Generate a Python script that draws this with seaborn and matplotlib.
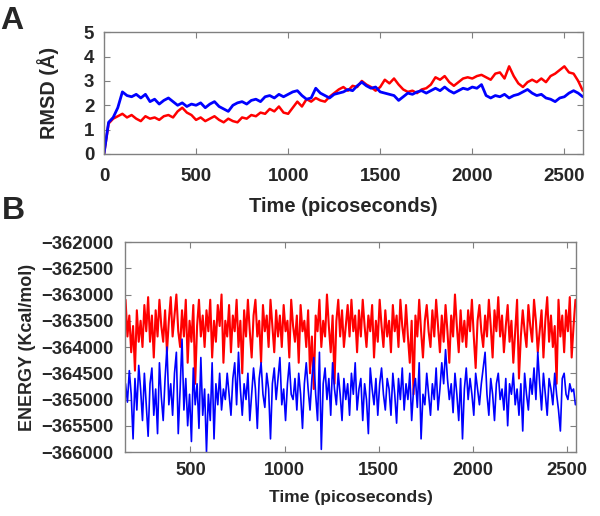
import numpy as np
import pandas as pd
import seaborn as sns
import matplotlib.pyplot as plt

# ---- panel A: RMSD, sampled every 25 ps ----
rmsd_time = np.arange(0, 2601, 25)
rmsd_red = [0.0, 1.25, 1.45, 1.55, 1.65, 1.5, 1.6, 1.45, 1.35, 1.55,
            1.45, 1.5, 1.4, 1.55, 1.6, 1.5, 1.75, 1.9, 1.7, 1.6,
            1.4, 1.5, 1.35, 1.45, 1.55, 1.4, 1.3, 1.45, 1.35, 1.3,
            1.5, 1.45, 1.6, 1.55, 1.7, 1.65, 1.85, 1.75, 1.95, 1.7,
            1.65, 1.9, 2.15, 1.95, 2.25, 2.15, 2.3, 2.2, 2.15, 2.35,
            2.5, 2.65, 2.75, 2.6, 2.8, 2.75, 3.0, 2.85, 2.75, 2.6,
            2.75, 3.05, 2.9, 3.1, 2.85, 2.65, 2.55, 2.6, 2.5, 2.65,
            2.7, 2.85, 3.15, 3.05, 3.2, 2.95, 2.8, 2.95, 3.1, 3.15,
            3.1, 3.2, 3.25, 3.15, 3.05, 3.3, 3.35, 3.1, 3.6, 3.2,
            2.9, 2.75, 2.95, 3.05, 2.95, 3.1, 2.95, 3.2, 3.3, 3.45,
            3.6, 3.35, 3.3, 3.0, 2.6]
rmsd_blue = [0.0, 1.3, 1.5, 1.9, 2.55, 2.4, 2.35, 2.45, 2.3, 2.45,
             2.15, 2.25, 2.05, 2.2, 2.3, 2.15, 2.0, 2.1, 1.95, 2.05,
             2.0, 2.1, 1.9, 2.05, 2.15, 1.95, 1.85, 1.75, 2.0, 2.1,
             2.15, 2.05, 2.2, 2.25, 2.15, 2.35, 2.4, 2.3, 2.45, 2.35,
             2.45, 2.55, 2.6, 2.4, 2.25, 2.3, 2.7, 2.5, 2.4, 2.3,
             2.45, 2.5, 2.55, 2.65, 2.6, 2.8, 2.95, 2.8, 2.7, 2.75,
             2.55, 2.5, 2.45, 2.4, 2.2, 2.35, 2.5, 2.45, 2.55, 2.6,
             2.5, 2.6, 2.7, 2.6, 2.75, 2.6, 2.5, 2.6, 2.7, 2.65,
             2.75, 2.7, 2.85, 2.4, 2.3, 2.4, 2.35, 2.45, 2.3, 2.4,
             2.45, 2.55, 2.65, 2.5, 2.4, 2.45, 2.3, 2.25, 2.15, 2.3,
             2.35, 2.5, 2.6, 2.5, 2.35]

# ---- panel B: energy, sampled every 10 ps from 155 ps ----
energy_time = np.arange(155, 2546, 10)
energy_red = [
    -363100, -363800, -363400, -364100, -363600, -364450, -363300, -363900, -363500, -364000,
    -363200, -363700, -363050, -363900, -363400, -364200, -363300, -363800, -363100, -363600,
    -363900, -363300, -364100, -363500, -363050, -363800, -363400, -363000, -363700, -364000,
    -363300, -363800, -363100, -364300, -363500, -363900, -363200, -364700, -363600, -363100,
    -363800, -363400, -364000, -363300, -363700, -363100, -364200, -363500, -363900, -363200,
    -363600, -363000, -364300, -363500, -363800, -363200, -364100, -363400, -363700, -363100,
    -364000, -363500, -364500, -363300, -363800, -363100, -363700, -364200, -363400, -363100,
    -363800, -363500, -364300, -363200, -363700, -363400, -364000, -363100, -363600, -364100,
    -363300, -363800, -363400, -364000, -363200, -363700, -363500, -364200, -363100, -363600,
    -363900, -363400, -364300, -363200, -363700, -363500, -364000, -363300, -364500, -363800,
    -364800, -363400, -363700, -363100, -364000, -363500, -363800, -363000, -363600, -364100,
    -363400, -364700, -363500, -363100, -363800, -363300, -364000, -363600, -363200, -363800,
    -363100, -363700, -363400, -364100, -363300, -363800, -363100, -363600, -364000, -363400,
    -363700, -363200, -364200, -363500, -363900, -363100, -363600, -364000, -363300, -363800,
    -363500, -364100, -363200, -363700, -363400, -364000, -363100, -363600, -363900, -363200,
    -363800, -364300, -363500, -364900, -363400, -363800, -363100, -363700, -364200, -363500,
    -363200, -363700, -364000, -363300, -363800, -363100, -363600, -364100, -363400, -363900,
    -363200, -363700, -364300, -363400, -363800, -363000, -363600, -364100, -363300, -363900,
    -363500, -364000, -363300, -363700, -363100, -363800, -364400, -363500, -363200, -363700,
    -364000, -363400, -363800, -363100, -363600, -364200, -363300, -363700, -363050, -363800,
    -363400, -364100, -363600, -363200, -363900, -363500, -364300, -363700, -363100, -364600,
    -363800, -363300, -363700, -364000, -363200, -363600, -363900, -363100, -363500, -364100,
    -363700, -363300, -364200, -363500, -363050, -363900, -363400, -364000, -363600, -364700,
    -363100, -363800, -363400, -364100, -363300, -363700, -363050, -364200, -363600, -363100]
energy_blue = [
    -364700, -365050, -364450, -364900, -365750, -364600, -365200, -364350, -364800, -365400,
    -364500, -365100, -365700, -364700, -364400, -365300, -364800, -365650, -364300, -364950,
    -365400, -364600, -364000, -365100, -364700, -365300, -364500, -364100, -365650, -364800,
    -363850, -365200, -364600, -365500, -364900, -365800, -364400, -365100, -364700, -365550,
    -364200, -365300, -364800, -366000, -364900, -365400, -364300, -365750, -364700, -365100,
    -364500, -365200, -364800, -365000, -364500, -364900, -365300, -364600, -364300, -365100,
    -364100, -364800, -365300, -364700, -365000, -364500, -365400, -364900, -364400, -364800,
    -365550, -364600, -364300, -364900, -365150, -364500, -364800, -365750, -364700, -364400,
    -365000, -364600, -364200, -365100, -364800, -365400, -364700, -364300, -364900, -365000,
    -364600, -365200, -364500, -364900, -365550, -364700, -364300, -364800, -365200, -364600,
    -364200, -364900, -365400, -364100, -365950, -364700, -364400, -365000, -364600, -365300,
    -364300, -364800, -365100, -364500, -364900, -365400, -364600, -365000, -364700, -365300,
    -364500, -364900, -364300, -365200, -364800, -364600, -365400, -364700, -365000, -365650,
    -364400, -364800, -365100, -364600, -365300, -364700, -364400, -364900, -365200, -364600,
    -364800, -365300, -364500, -364900, -365450, -364600, -365000, -364400, -365200, -364700,
    -365000, -364500, -365400, -364800, -364600, -365150, -364300, -365750, -364900, -365100,
    -364500, -364900, -365300, -364700, -365000, -364400, -365200, -364800, -364300, -364700,
    -364050, -364600, -365000, -364700, -365250, -364500, -364900, -365400, -364600, -365750,
    -364800, -364400, -365000, -364600, -364900, -365300, -364500, -364800, -365100, -364700,
    -364400, -364100, -364900, -365300, -364600, -364900, -365400, -364700, -364500, -365000,
    -364800, -365200, -364600, -365500, -364700, -364900, -364500, -365100, -364800, -365300,
    -364700, -365600, -364500, -364900, -365200, -364600, -364900, -364400, -365000, -364100,
    -364700, -365200, -364500, -364900, -365300, -364600, -364800, -365100, -364500, -364900,
    -365200, -365600, -364600, -364500, -364900, -365000, -364700, -364850, -364800, -365100]

sns.set_style("ticks")
plt.rcParams['font.family'] = ['Liberation Sans', 'DejaVu Sans']
plt.rcParams['font.weight'] = 'bold'
plt.rcParams['axes.labelweight'] = 'bold'

RED = '#ff0000'
BLUE = '#0000ff'

fig = plt.figure(figsize=(6, 5.16), dpi=100)
ax0 = fig.add_axes([0.1733, 0.7016, 0.798, 0.2359])
ax1 = fig.add_axes([0.2083, 0.124, 0.7517, 0.407])

df_a = pd.DataFrame({'t': rmsd_time, 'red': rmsd_red, 'blue': rmsd_blue})
sns.lineplot(data=df_a, x='t', y='red', ax=ax0, color=RED, lw=1.8)
sns.lineplot(data=df_a, x='t', y='blue', ax=ax0, color=BLUE, lw=2.0)
ax0.set_xlim(0, 2600)
ax0.set_ylim(0, 5)
ax0.set_xticks([0, 500, 1000, 1500, 2000, 2500])
ax0.set_yticks([0, 1, 2, 3, 4, 5])
ax0.set_xlabel('Time (picoseconds)', fontsize=14.5, labelpad=9)
ax0.set_ylabel('RMSD (Å)', fontsize=14.3, labelpad=18)
ax0.tick_params(axis='x', labelsize=13.5, pad=10)
ax0.tick_params(axis='y', labelsize=13.5, pad=7)

df_b = pd.DataFrame({'t': energy_time, 'red': energy_red, 'blue': energy_blue})
sns.lineplot(data=df_b, x='t', y='red', ax=ax1, color=RED, lw=1.5)
sns.lineplot(data=df_b, x='t', y='blue', ax=ax1, color=BLUE, lw=1.2)
ax1.set_xlim(152, 2548)
ax1.set_ylim(-366000, -362000)
ax1.set_xticks([500, 1000, 1500, 2000, 2500])
ax1.set_yticks(np.arange(-366000, -361999, 500))
ax1.set_xlabel('Time (picoseconds)', fontsize=12.6, labelpad=8)
ax1.set_ylabel('ENERGY (Kcal/mol)', fontsize=12.9, labelpad=4)
ax1.tick_params(axis='x', labelsize=13.3, pad=7)
ax1.tick_params(axis='y', labelsize=13.3, pad=8)

for ax in (ax0, ax1):
    for sp in ax.spines.values():
        sp.set_visible(True)
        sp.set_color('#808080')
        sp.set_linewidth(1.0)
    ax.tick_params(direction='in', length=4, width=0.8, color='#808080',
                   top=True, right=True)
    for lab in ax.get_xticklabels() + ax.get_yticklabels():
        lab.set_fontweight('bold')

fig.text(0.0, 1 - 6 / 516, 'A', fontsize=23, fontweight='bold', va='top', ha='left')
fig.text(0.003, 1 - 196 / 516, 'B', fontsize=23, fontweight='bold', va='top', ha='left')

fig.savefig('out.png', dpi=100)
